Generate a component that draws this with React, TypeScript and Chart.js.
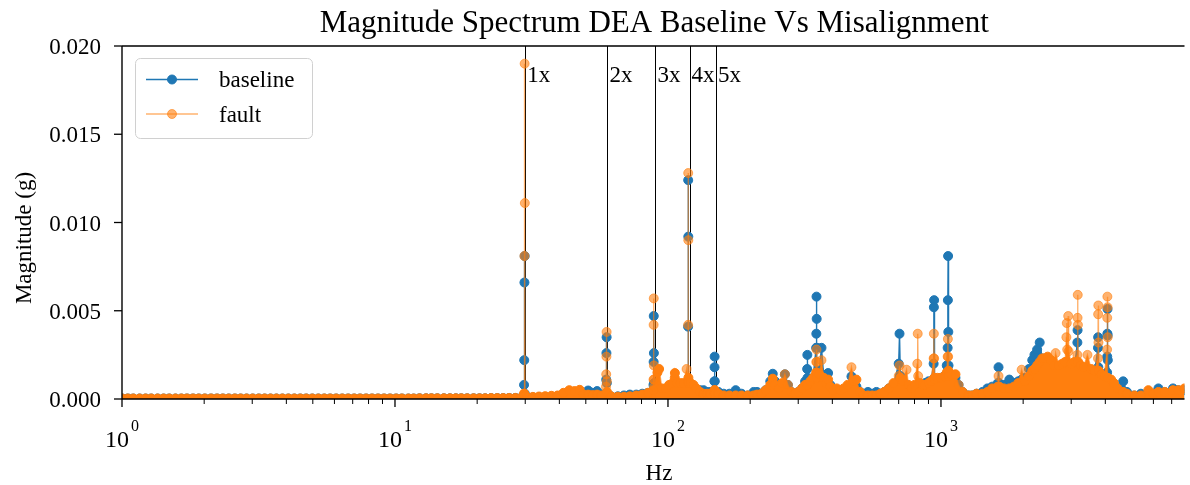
import React, { useEffect, useRef } from 'react';
import { Chart, registerables } from 'chart.js';

Chart.register(...registerables);

// ---------- data ----------
const freqHz = [
  1, 1.05, 1.1, 1.16, 1.22, 1.28, 1.35, 1.42, 1.49, 1.57,
  1.65, 1.73, 1.82, 1.91, 2.01, 2.12, 2.23, 2.34, 2.46, 2.59,
  2.72, 2.86, 3.01, 3.17, 3.33, 3.5, 3.68, 3.87, 4.07, 4.28,
  4.5, 4.73, 4.98, 5.24, 5.51, 5.79, 6.09, 6.41, 6.74, 7.09,
  7.45, 7.84, 8.24, 8.67, 9.12, 9.59, 10.1, 10.6, 11.2, 11.7,
  12.3, 13.0, 13.6, 14.3, 15.1, 15.9, 16.7, 17.5, 18.4, 19.4,
  20.4, 21.4, 22.5, 23.7, 24.9, 26.2, 27.6, 29.0,
  29.7, 29.75, 29.8, 29.85, 29.9, 29.95,
  30.5, 32, 33.7, 35.5, 37.4, 39.4, 41.4, 43.5, 45.5, 47.5,
  49, 51, 53, 55, 57,
  59.3, 59.4, 59.5, 59.6, 59.7, 59.8,
  62, 65.5, 69, 72.5, 76.5, 80.5, 84.5,
  88.4, 88.5, 88.6, 88.7, 88.8, 88.9, 89.0,
  91.5, 92.8, 95, 98, 101, 104, 105.9, 106, 108, 111, 114, 117,
  118.4, 118.5, 118.6, 118.7, 118.8, 118.9,
  121, 124, 127, 131, 135, 139, 143,
  148.0, 148.1, 148.2, 148.3, 148.4,
  153, 160, 168, 177, 186, 196, 206, 212, 220, 228,
  237, 242, 247, 255, 262, 268, 275, 283, 292, 300, 310, 318,
  323.5, 324, 324.5, 332, 340,
  349, 349.5, 350, 350.5, 351, 351.5,
  358, 365, 372, 380, 386, 393, 403, 415, 428, 440,
  455, 470, 480, 490, 505, 520, 540, 560, 580, 600,
  620, 645, 670, 700, 705, 710, 725, 748, 760, 780,
  800, 819, 822, 825, 840, 857, 875, 900, 920,
  940, 942, 944, 946, 948, 970, 1000, 1030, 1050,
  1058, 1060, 1062, 1064, 1066, 1068,
  1090, 1130, 1160, 1200, 1262, 1300, 1350, 1420, 1480, 1540,
  1615, 1625, 1635, 1700, 1780, 1850, 1920, 1975, 2030, 2100,
  2160, 2200, 2250, 2300, 2350, 2400, 2460, 2530, 2600, 2630,
  2700, 2780, 2850, 2880, 2890, 2900, 2925, 2935, 3000, 3080,
  3160, 3165, 3170, 3175, 3180, 3250, 3330, 3440, 3550, 3650,
  3760, 3765, 3770, 3775, 3780, 3870, 3970,
  4060, 4065, 4070, 4075, 4080, 4085,
  4200, 4300, 4430, 4650, 4800, 5110, 5400, 5750, 6000, 6260,
  6600, 7080, 7400, 7800,
];

const baselineMag = [
  0.00003, 0.00003, 0.00003, 0.00003, 0.00003, 0.00003, 0.00003, 0.00003, 0.00003, 0.00003,
  0.00003, 0.00003, 0.00003, 0.00003, 0.00003, 0.00003, 0.00003, 0.00003, 0.00003, 0.00003,
  0.00003, 0.00003, 0.00003, 0.00003, 0.00003, 0.00003, 0.00003, 0.00003, 0.00003, 0.00003,
  0.00003, 0.00003, 0.00003, 0.00003, 0.00003, 0.00003, 0.00003, 0.00003, 0.00003, 0.00003,
  0.00003, 0.00003, 0.00003, 0.00003, 0.00003, 0.00003, 0.00003, 0.00003, 0.00003, 0.00003,
  0.00004, 0.00004, 0.00004, 0.00004, 0.00004, 0.00004, 0.00004, 0.00004, 0.00004, 0.00004,
  0.00004, 0.00004, 0.00005, 0.00005, 0.00005, 0.00006, 0.00006, 0.00007,
  0.0008, 0.0022, 0.0066, 0.0081, 0.0003, 0.0001,
  0.00008, 0.00009, 0.0001, 0.00011, 0.00012, 0.00015, 0.00018, 0.00025, 0.00025, 0.0003,
  0.00025, 0.00048, 0.00035, 0.00045, 0.00025,
  0.0003, 0.0011, 0.0026, 0.0035, 0.0009, 0.0003,
  0.00015, 0.00015, 0.0002, 0.00025, 0.00025, 0.0003, 0.00035,
  0.0005, 0.0008, 0.0021, 0.0047, 0.0026, 0.0009, 0.0005,
  0.0006, 0.0005, 0.0004, 0.0004, 0.0005, 0.0006, 0.0006, 0.0006, 0.0006, 0.0006, 0.0007, 0.0008,
  0.0009, 0.0041, 0.0124, 0.0092, 0.0010, 0.0007,
  0.0007, 0.0006, 0.0005, 0.0005, 0.0005, 0.0004, 0.0004,
  0.0010, 0.0018, 0.0024, 0.0010, 0.0004,
  0.0004, 0.0003, 0.0003, 0.0005, 0.0003, 0.0002, 0.0004, 0.0004, 0.0003, 0.0005,
  0.0010, 0.00143, 0.0010, 0.0006, 0.0008, 0.0014, 0.0008, 0.0004, 0.0003, 0.0004, 0.0006, 0.0010,
  0.0017, 0.0025, 0.0012, 0.0010, 0.0012,
  0.0029, 0.0037, 0.0058, 0.00454, 0.0029, 0.0015,
  0.0016, 0.0029, 0.0013, 0.0010, 0.00147, 0.0008, 0.0005, 0.0004, 0.0004, 0.0004,
  0.0006, 0.00128, 0.0010, 0.0007, 0.0004, 0.0003, 0.0004, 0.0003, 0.0004, 0.0003,
  0.0004, 0.0006, 0.0008, 0.0020, 0.0037, 0.0013, 0.0009, 0.0008, 0.0006, 0.0005,
  0.0006, 0.0007, 0.0008, 0.0007, 0.0008, 0.0008, 0.0009, 0.0010, 0.0010,
  0.0020, 0.0052, 0.0056, 0.0012, 0.0010, 0.0011, 0.0012, 0.0013, 0.0019,
  0.0029, 0.0056, 0.0081, 0.0038, 0.0019, 0.0013,
  0.0012, 0.0012, 0.0008, 0.0004, 0.0002, 0.0002, 0.0003, 0.0004, 0.0006, 0.0007,
  0.0009, 0.0018, 0.0009, 0.0008, 0.0011, 0.0009, 0.0010, 0.0011, 0.0012, 0.0017,
  0.0022, 0.0025, 0.0028, 0.0032, 0.0023, 0.0020, 0.0018, 0.0016, 0.0015, 0.0015,
  0.0015, 0.0016, 0.0017, 0.0017, 0.0018, 0.0017, 0.0018, 0.0017, 0.0016, 0.0017,
  0.0032, 0.0039, 0.0020, 0.0018, 0.0017, 0.0016, 0.0015, 0.0014, 0.0013, 0.0015,
  0.0029, 0.0035, 0.0018, 0.0015, 0.0014, 0.0013, 0.0012,
  0.0015, 0.0024, 0.0037, 0.0051, 0.0036, 0.0022,
  0.0010, 0.0008, 0.0006, 0.0010, 0.0004, 0.0002, 0.0003, 0.0004, 0.0003, 0.0006,
  0.0004, 0.0006, 0.0005, 0.0005,
];

const faultMag = [
  0.00003, 0.00003, 0.00003, 0.00003, 0.00003, 0.00003, 0.00003, 0.00003, 0.00003, 0.00003,
  0.00003, 0.00003, 0.00003, 0.00003, 0.00003, 0.00003, 0.00003, 0.00003, 0.00003, 0.00003,
  0.00003, 0.00003, 0.00003, 0.00003, 0.00003, 0.00003, 0.00003, 0.00003, 0.00003, 0.00003,
  0.00003, 0.00003, 0.00003, 0.00003, 0.00003, 0.00003, 0.00003, 0.00003, 0.00003, 0.00003,
  0.00003, 0.00003, 0.00003, 0.00003, 0.00003, 0.00003, 0.00003, 0.00003, 0.00003, 0.00003,
  0.00004, 0.00004, 0.00004, 0.00004, 0.00004, 0.00004, 0.00004, 0.00004, 0.00004, 0.00004,
  0.00004, 0.00004, 0.00005, 0.00005, 0.00005, 0.00006, 0.00006, 0.00007,
  0.0003, 0.0003, 0.0081, 0.0190, 0.0111, 0.0002,
  0.0001, 0.00012, 0.00014, 0.00016, 0.00018, 0.0002, 0.00035, 0.0005, 0.00045, 0.00052,
  0.00025, 0.00025, 0.00022, 0.00025, 0.0002,
  0.0007, 0.0014, 0.0024, 0.0038, 0.0010, 0.0004,
  0.00015, 0.00013, 0.00013, 0.00015, 0.0002, 0.00025, 0.00035,
  0.0005, 0.0011, 0.0042, 0.0057, 0.0019, 0.0011, 0.0007,
  0.0015, 0.0017, 0.0006, 0.0006, 0.0008, 0.0009, 0.0012, 0.00147, 0.0009, 0.0009, 0.0009, 0.0017,
  0.0010, 0.0042, 0.0128, 0.0090, 0.0012, 0.0009,
  0.0009, 0.0008, 0.0006, 0.0004, 0.0003, 0.0003, 0.0003,
  0.0004, 0.0005, 0.0005, 0.0004, 0.0003,
  0.0003, 0.0002, 0.0002, 0.0002, 0.0002, 0.0002, 0.0002, 0.00025, 0.0003, 0.0005,
  0.0008, 0.00115, 0.0008, 0.0006, 0.0009, 0.0014, 0.0008, 0.0004, 0.0003, 0.0004, 0.0006, 0.0008,
  0.0008, 0.0008, 0.0008, 0.0010, 0.0012,
  0.0015, 0.0021, 0.0028, 0.0021, 0.0015, 0.0012,
  0.0014, 0.0022, 0.0012, 0.0009, 0.0011, 0.0007, 0.0005, 0.0006, 0.0005, 0.0006,
  0.0008, 0.0018, 0.0010, 0.0011, 0.0004, 0.0002, 0.0002, 0.0002, 0.0002, 0.0003,
  0.0004, 0.0006, 0.0009, 0.0013, 0.0019, 0.0012, 0.0010, 0.00166, 0.0008, 0.0006,
  0.0008, 0.0020, 0.0037, 0.0013, 0.0009, 0.0008, 0.0008, 0.0009, 0.0010,
  0.0023, 0.0037, 0.0023, 0.0012, 0.0011, 0.0012, 0.0012, 0.0013, 0.0015,
  0.0024, 0.0034, 0.0024, 0.0016, 0.0014, 0.0013,
  0.0014, 0.0014, 0.0008, 0.0004, 0.0002, 0.0002, 0.0003, 0.0003, 0.0004, 0.0006,
  0.0007, 0.0013, 0.0007, 0.0006, 0.0006, 0.0007, 0.0009, 0.00166, 0.0010, 0.0013,
  0.0016, 0.0017, 0.0019, 0.0021, 0.0023, 0.0023, 0.0024, 0.0022, 0.0019, 0.0026,
  0.0019, 0.0020, 0.0021, 0.0035, 0.0043, 0.0028, 0.0047, 0.0027, 0.0020, 0.0021,
  0.0025, 0.0046, 0.0059, 0.0042, 0.0021, 0.0019, 0.0018, 0.0025, 0.0017, 0.0016,
  0.0023, 0.0048, 0.0053, 0.0032, 0.0016, 0.0014, 0.0013,
  0.0028, 0.0046, 0.0058, 0.0052, 0.0035, 0.0012,
  0.0011, 0.0009, 0.0006, 0.0004, 0.0003, 0.0002, 0.0002, 0.0005, 0.0003, 0.0004,
  0.0004, 0.0005, 0.0005, 0.0006,
];

const seriesNames = ['baseline', 'fault'];
const titleText = 'Magnitude Spectrum DEA Baseline Vs Misalignment';
const xAxisLabel = 'Hz';
const yAxisLabel = 'Magnitude (g)';

const yTickValues = [0, 0.005, 0.01, 0.015, 0.02];
const yTickLabels = ['0.000', '0.005', '0.010', '0.015', '0.020'];

const xMajorTicks = [1, 10, 100, 1000];
const xMajorExponents = ['0', '1', '2', '3'];
const xMinorTicks = [
  2, 3, 4, 5, 6, 7, 8, 9,
  20, 30, 40, 50, 60, 70, 80, 90,
  200, 300, 400, 500, 600, 700, 800, 900,
  2000, 3000, 4000, 5000, 6000, 7000,
];

const harmonicHz = [30, 60, 90, 120, 150];
const harmonicLabels = ['1x', '2x', '3x', '4x', '5x'];

const X_MIN = 1;
const X_MAX = 7800;
const Y_MIN = 0;
const Y_MAX = 0.02;

// ---------- styles ----------
const BLUE = '#1f77b4';
const ORANGE = '#ff7f0e';
const ORANGE_A = 'rgba(255,127,14,0.6)';
const SERIF = "'Liberation Serif', 'Times New Roman', serif";

// Overlapping translucent markers look opaque: use the solid colour where a
// marker sits very close to its neighbours, the translucent one elsewhere.
const overlapColor = (solid: string, light: string) => (c: any) => {
  if (c.type !== 'data') return light;
  const data = c.dataset.data;
  const i = c.dataIndex;
  const xs = c.chart.scales.x;
  const ys = c.chart.scales.y;
  if (!xs || !ys) return light;
  const p = data[i];
  const px = xs.getPixelForValue(p.x);
  const py = ys.getPixelForValue(p.y);
  let minD = Infinity;
  [i - 1, i + 1].forEach((j) => {
    if (j < 0 || j >= data.length) return;
    const q = data[j];
    const d = Math.hypot(xs.getPixelForValue(q.x) - px, ys.getPixelForValue(q.y) - py);
    if (d < minD) minD = d;
  });
  return minD < 7 ? solid : light;
};

const decorPlugin = {
  id: 'mplDecor',
  beforeDatasetsDraw(chart: any) {
    const { ctx, chartArea: a, scales } = chart;
    const x = scales.x;
    ctx.save();
    ctx.strokeStyle = '#000';
    ctx.lineWidth = 1;
    harmonicHz.forEach((h) => {
      const px = Math.round(x.getPixelForValue(h)) + 0.5;
      ctx.beginPath();
      ctx.moveTo(px, a.top);
      ctx.lineTo(px, a.bottom);
      ctx.stroke();
    });
    ctx.restore();
  },
  afterDatasetsDraw(chart: any) {
    const { ctx, chartArea: a, scales } = chart;
    const x = scales.x;
    const y = scales.y;
    ctx.save();

    // harmonic labels
    ctx.fillStyle = '#000';
    ctx.font = `23px ${SERIF}`;
    ctx.textAlign = 'left';
    ctx.textBaseline = 'alphabetic';
    harmonicHz.forEach((h, i) => {
      const px = x.getPixelForValue(h);
      ctx.fillText(harmonicLabels[i], px + 2, 82);
    });

    // spines
    ctx.strokeStyle = '#000';
    ctx.lineWidth = 1.4;
    ctx.beginPath();
    ctx.moveTo(a.left, a.top);
    ctx.lineTo(a.right, a.top);
    ctx.moveTo(a.left, a.top);
    ctx.lineTo(a.left, a.bottom);
    ctx.moveTo(a.left, a.bottom);
    ctx.lineTo(a.right, a.bottom);
    ctx.stroke();

    // y ticks
    ctx.lineWidth = 1.3;
    ctx.font = `23px ${SERIF}`;
    ctx.textAlign = 'right';
    ctx.textBaseline = 'middle';
    yTickValues.forEach((v, i) => {
      const py = y.getPixelForValue(v);
      ctx.beginPath();
      ctx.moveTo(a.left - 8, py);
      ctx.lineTo(a.left, py);
      ctx.stroke();
      ctx.fillText(yTickLabels[i], a.left - 21, py + 2);
    });

    // x ticks
    xMinorTicks.forEach((v) => {
      const px = x.getPixelForValue(v);
      if (px > a.right) return;
      ctx.lineWidth = 1;
      ctx.beginPath();
      ctx.moveTo(px, a.bottom);
      ctx.lineTo(px, a.bottom + 5);
      ctx.stroke();
    });
    xMajorTicks.forEach((v, i) => {
      const px = x.getPixelForValue(v);
      ctx.lineWidth = 1.3;
      ctx.beginPath();
      ctx.moveTo(px, a.bottom);
      ctx.lineTo(px, a.bottom + 8);
      ctx.stroke();
      ctx.textAlign = 'left';
      ctx.textBaseline = 'alphabetic';
      ctx.font = `24px ${SERIF}`;
      const w1 = ctx.measureText('10').width;
      ctx.font = `16px ${SERIF}`;
      const w2 = ctx.measureText(xMajorExponents[i]).width;
      const start = px - (w1 + 2 + w2) / 2;
      ctx.font = `24px ${SERIF}`;
      ctx.fillText('10', start, 447);
      ctx.font = `16px ${SERIF}`;
      ctx.fillText(xMajorExponents[i], start + w1 + 2, 431);
    });

    // axis labels
    ctx.font = `23px ${SERIF}`;
    ctx.textAlign = 'center';
    ctx.textBaseline = 'alphabetic';
    ctx.fillText(xAxisLabel, 659, 480);
    ctx.save();
    ctx.translate(31, 238);
    ctx.rotate(-Math.PI / 2);
    ctx.fillText(yAxisLabel, 0, 0);
    ctx.restore();

    // title
    ctx.font = `31px ${SERIF}`;
    ctx.textAlign = 'center';
    ctx.fillText(titleText, (a.left + a.right) / 2 + 1, 32);

    // legend
    const lx = 135.5, ly = 58.5, lw = 177, lh = 80, r = 5;
    ctx.beginPath();
    ctx.moveTo(lx + r, ly);
    ctx.lineTo(lx + lw - r, ly);
    ctx.arcTo(lx + lw, ly, lx + lw, ly + r, r);
    ctx.lineTo(lx + lw, ly + lh - r);
    ctx.arcTo(lx + lw, ly + lh, lx + lw - r, ly + lh, r);
    ctx.lineTo(lx + r, ly + lh);
    ctx.arcTo(lx, ly + lh, lx, ly + lh - r, r);
    ctx.lineTo(lx, ly + r);
    ctx.arcTo(lx, ly, lx + r, ly, r);
    ctx.closePath();
    ctx.fillStyle = 'rgba(255,255,255,0.8)';
    ctx.fill();
    ctx.strokeStyle = '#d0d0d0';
    ctx.lineWidth = 1;
    ctx.stroke();

    const entries = [
      { name: seriesNames[0], color: BLUE, cy: 79.5 },
      { name: seriesNames[1], color: ORANGE_A, cy: 114 },
    ];
    entries.forEach((e) => {
      ctx.strokeStyle = e.color;
      ctx.lineWidth = 1.5;
      ctx.beginPath();
      ctx.moveTo(146, e.cy);
      ctx.lineTo(198, e.cy);
      ctx.stroke();
      ctx.beginPath();
      ctx.arc(172, e.cy, 4.5, 0, Math.PI * 2);
      ctx.fillStyle = e.color;
      ctx.fill();
      ctx.lineWidth = 1;
      ctx.stroke();
      ctx.fillStyle = '#000';
      ctx.font = `23px ${SERIF}`;
      ctx.textAlign = 'left';
      ctx.textBaseline = 'alphabetic';
      ctx.fillText(e.name, 219, e.cy + 7.5);
    });

    ctx.restore();
  },
};

export default function App() {
  const canvasRef = useRef<HTMLCanvasElement>(null);

  useEffect(() => {
    document.body.style.margin = '0';
    const canvas = canvasRef.current;
    if (!canvas) return;

    const baselinePts = freqHz.map((f, i) => ({ x: f, y: baselineMag[i] }));
    const faultPts = freqHz.map((f, i) => ({ x: f, y: faultMag[i] }));

    const chart = new Chart(canvas, {
      type: 'line',
      data: {
        datasets: [
          {
            label: seriesNames[0],
            data: baselinePts,
            order: 1,
            borderColor: BLUE,
            backgroundColor: BLUE,
            borderWidth: 1.4,
            pointRadius: 4.5,
            pointBorderWidth: 1,
            pointBackgroundColor: BLUE,
            pointBorderColor: BLUE,
            fill: 'origin',
            tension: 0,
            clip: 0,
          } as any,
          {
            label: seriesNames[1],
            data: faultPts,
            order: 0,
            borderColor: ORANGE_A,
            backgroundColor: ORANGE,
            borderWidth: 1.4,
            pointRadius: 4.5,
            pointBorderWidth: 1,
            pointBackgroundColor: overlapColor(ORANGE, ORANGE_A),
            pointBorderColor: overlapColor(ORANGE, ORANGE_A),
            fill: 'origin',
            tension: 0,
            clip: 0,
          } as any,
        ],
      },
      options: {
        animation: false,
        responsive: false,
        maintainAspectRatio: false,
        devicePixelRatio: 1,
        events: [],
        layout: { padding: { left: 122, top: 46, right: 0, bottom: 86 } },
        scales: {
          x: { type: 'logarithmic', min: X_MIN, max: X_MAX, display: false },
          y: { type: 'linear', min: Y_MIN, max: Y_MAX, display: false },
        },
        plugins: {
          legend: { display: false },
          tooltip: { enabled: false },
          title: { display: false },
        },
      },
      plugins: [decorPlugin],
    });

    return () => chart.destroy();
  }, []);

  return (
    <div style={{ position: 'absolute', left: 0, top: 0, width: 1190, height: 485, background: '#fff' }}>
      <canvas ref={canvasRef} width={1190} height={485} style={{ display: 'block', width: 1190, height: 485 }} />
    </div>
  );
}
